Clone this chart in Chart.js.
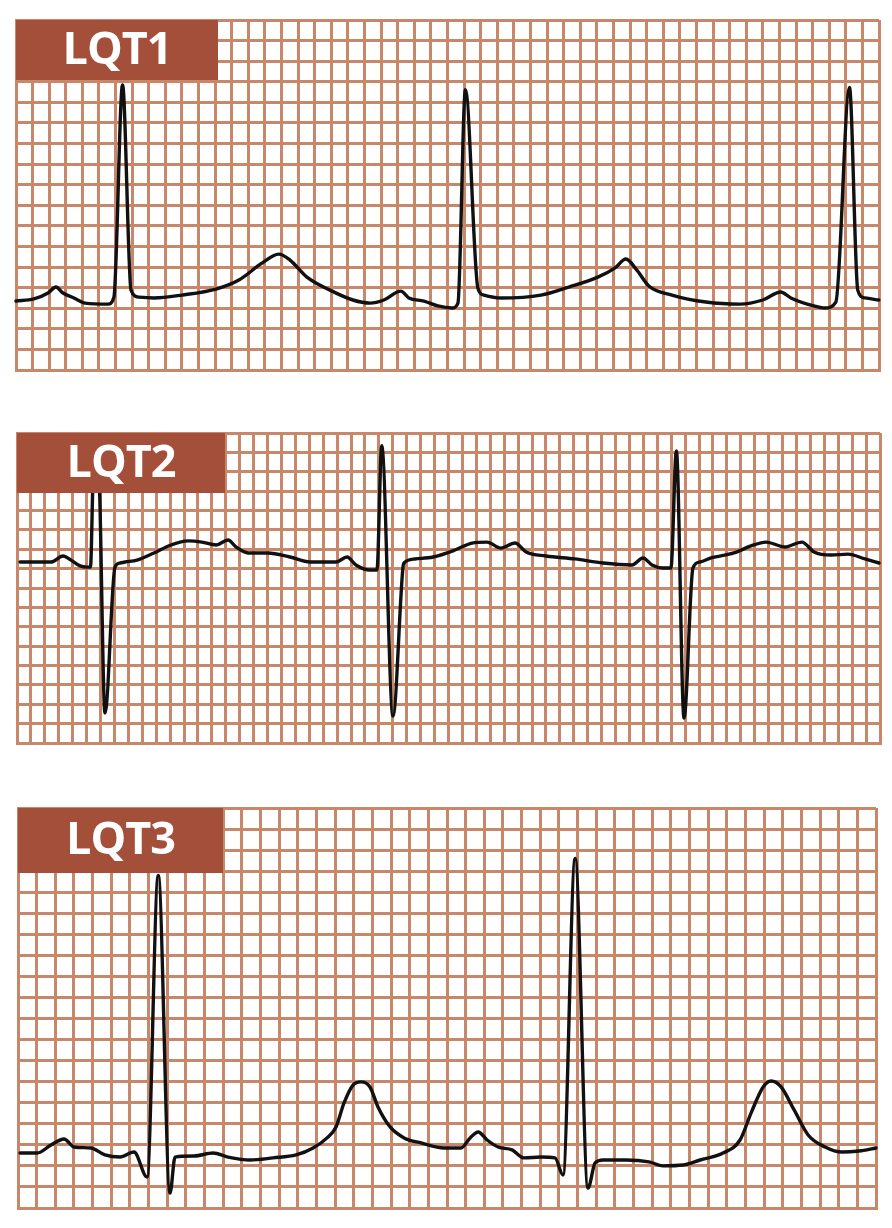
<!DOCTYPE html>
<html>
<head>
<meta charset="utf-8">
<script src="https://cdn.jsdelivr.net/npm/chart.js@4.4.1/dist/chart.umd.min.js"></script>
<style>
  html, body { margin: 0; padding: 0; background: #ffffff; }
  body { width: 892px; height: 1228px; position: relative; overflow: hidden; }
  .panel { position: absolute; }
  .tag {
    position: absolute; background: #A44F39; color: #ffffff;
    font-family: "Open Sans", "Noto Sans", sans-serif; font-weight: 700;
    font-size: 45px; line-height: 1; letter-spacing: -1px;
    display: flex; align-items: center; justify-content: center;
    box-sizing: border-box; padding-bottom: 8px;
  }
</style>
</head>
<body>
<script>
// ECG paper units: x in small squares (1 = 40 ms), y in small squares (1 = 0.1 mV), from panel bottom
const panelTitles = ["LQT1", "LQT2", "LQT3"];
const gridCols = [52, 62, 46];
const gridRows = [17, 16, 19];

const lqt1Time = [0, 1.08, 1.93, 2.41, 2.83, 3.49, 4.16, 5.54, 5.90, 6.42, 6.93, 7.41, 8.31, 10.0, 12.05,
  13.43, 14.82, 15.84, 16.51, 17.53, 18.92, 20.30, 21.33, 22.17, 23.19, 23.67, 24.58, 25.42, 26.27, 26.63,
  27.08, 27.83, 28.19, 29.22, 31.63, 33.31, 35.06, 36.08, 36.75, 37.41, 38.13, 39.52, 41.57, 43.61,
  45.0, 46.08, 46.69, 48.07, 48.73, 49.40, 50.22, 50.72, 51.14, 51.99];
const lqt1Amp = [3.35, 3.45, 3.74, 4.03, 3.74, 3.50, 3.25, 3.20, 3.54, 13.85, 3.88, 3.54, 3.50, 3.64, 3.93,
  4.37, 5.19, 5.63, 5.34, 4.51, 3.88, 3.40, 3.25, 3.40, 3.83, 3.50, 3.35, 3.11, 3.01, 3.25,
  13.62, 3.98, 3.64, 3.50, 3.64, 4.03, 4.51, 4.95, 5.39, 4.85, 4.08, 3.64, 3.30, 3.20,
  3.40, 3.79, 3.50, 3.11, 3.01, 3.30, 13.72, 3.88, 3.50, 3.40];

const lqt2Time = [0.22, 2.44, 3.30, 3.88, 4.53, 5.03, 5.28, 5.50, 5.85, 6.32, 7.04, 7.40, 7.76, 8.62, 9.84, 11.06,
  12.28, 13.29, 14.30, 15.16, 15.73, 16.60, 18.03, 19.61, 21.05, 22.92, 23.71, 24.35, 25.36,
  25.86, 26.20, 27.01, 27.73, 27.80, 28.59, 29.89, 31.47, 32.69, 33.76, 34.77, 35.78, 36.57,
  38.0, 40.09, 42.10, 44.18, 44.97, 45.62, 46.41, 46.98, 47.37, 47.92, 48.56, 49.07, 49.86,
  51.51, 52.73, 53.81, 55.17, 56.39, 57.26, 58.48, 59.70, 60.92, 61.93];
const lqt2Amp = [9.34, 9.34, 9.65, 9.44, 9.14, 9.08, 9.08, 14.09, 14.09, 1.55, 9.08, 9.29, 9.34, 9.44, 9.81, 10.22,
  10.43, 10.37, 10.22, 10.48, 10.12, 9.81, 9.81, 9.60, 9.34, 9.34, 9.60, 9.19, 8.93,
  8.93, 15.35, 1.39, 9.08, 9.29, 9.50, 9.60, 9.96, 10.32, 10.37, 10.06, 10.32, 9.86,
  9.65, 9.50, 9.29, 9.19, 9.55, 9.19, 9.03, 9.03, 15.08, 1.29, 9.03, 9.34, 9.55,
  9.81, 10.17, 10.37, 10.12, 10.37, 9.86, 9.70, 9.75, 9.50, 9.29];

const lqt3Time = [0.11, 1.02, 1.77, 2.47, 3.00, 3.91, 4.66, 5.47, 6.22, 6.92, 7.52, 8.15, 8.42, 9.44, 10.46,
  11.26, 12.44, 13.67, 14.91, 15.82, 16.57, 17.05, 17.48, 17.96, 18.39, 18.87, 19.30, 19.95, 20.70,
  21.61, 22.84, 23.75, 24.24, 24.67, 25.15, 25.74, 26.49, 27.13, 28.04, 28.79, 29.22, 29.87,
  30.56, 30.94, 31.37, 32.60, 33.83, 34.58, 35.66, 36.57, 37.80, 38.71, 39.30, 39.95, 40.38, 40.91,
  41.61, 42.36, 43.27, 44.18, 45.09, 46.0];
const lqt3Amp = [2.61, 2.61, 2.99, 3.28, 2.90, 2.85, 2.52, 2.42, 2.66, 1.47, 15.80, 0.71, 2.42, 2.47, 2.61,
  2.42, 2.28, 2.38, 2.52, 2.85, 3.33, 3.85, 4.99, 5.84, 5.99, 5.75, 4.80, 3.85, 3.33,
  3.09, 2.85, 2.85, 3.33, 3.61, 3.23, 2.90, 2.76, 2.38, 2.42, 2.38, 1.57, 16.60,
  0.95, 2.14, 2.28, 2.28, 2.19, 2.00, 2.04, 2.28, 2.61, 3.23, 4.51, 5.75, 6.03, 5.75,
  4.66, 3.47, 2.90, 2.66, 2.71, 2.85];

const traceTimes = [lqt1Time, lqt2Time, lqt3Time];
const traceAmps = [lqt1Amp, lqt2Amp, lqt3Amp];

// layout (page placement of each strip and its tag box)
const boxes = [
  { left: 16, top: 20, width: 863, height: 350, tagW: 202, tagH: 60 },
  { left: 17, top: 433, width: 863, height: 310, tagW: 208, tagH: 60 },
  { left: 18, top: 808, width: 858, height: 400, tagW: 205, tagH: 65 }
];

const GRID = '#C98769';
const PAD = 2;

boxes.forEach((b, i) => {
  const wrap = document.createElement('div');
  wrap.className = 'panel';
  wrap.style.left = (b.left - PAD) + 'px';
  wrap.style.top = (b.top - PAD) + 'px';
  wrap.style.width = (b.width + 2 * PAD) + 'px';
  wrap.style.height = (b.height + 2 * PAD) + 'px';
  const cv = document.createElement('canvas');
  wrap.appendChild(cv);
  document.body.appendChild(wrap);

  const tag = document.createElement('div');
  tag.className = 'tag';
  tag.textContent = panelTitles[i];
  tag.style.left = b.left + 'px';
  tag.style.top = b.top + 'px';
  tag.style.width = b.tagW + 'px';
  tag.style.height = b.tagH + 'px';
  document.body.appendChild(tag);

  const pts = traceTimes[i].map((t, k) => ({ x: t, y: traceAmps[i][k] }));
  const axis = (max) => ({
    type: 'linear', min: 0, max: max,
    ticks: { display: false, stepSize: 1, maxTicksLimit: 1000 },
    grid: { color: GRID, lineWidth: 3, drawTicks: false },
    border: { display: true, color: GRID, width: 3 }
  });

  new Chart(cv, {
    type: 'scatter',
    data: { datasets: [{
      data: pts, showLine: true, pointRadius: 0, borderColor: '#111111', borderWidth: 3.4,
      cubicInterpolationMode: 'monotone', borderJoinStyle: 'round', borderCapStyle: 'round', clip: false
    }] },
    options: {
      responsive: true, maintainAspectRatio: false, animation: false,
      layout: { padding: PAD },
      plugins: { legend: { display: false }, tooltip: { enabled: false } },
      events: [],
      scales: { x: axis(gridCols[i]), y: axis(gridRows[i]) }
    }
  });
});
</script>
</body>
</html>
